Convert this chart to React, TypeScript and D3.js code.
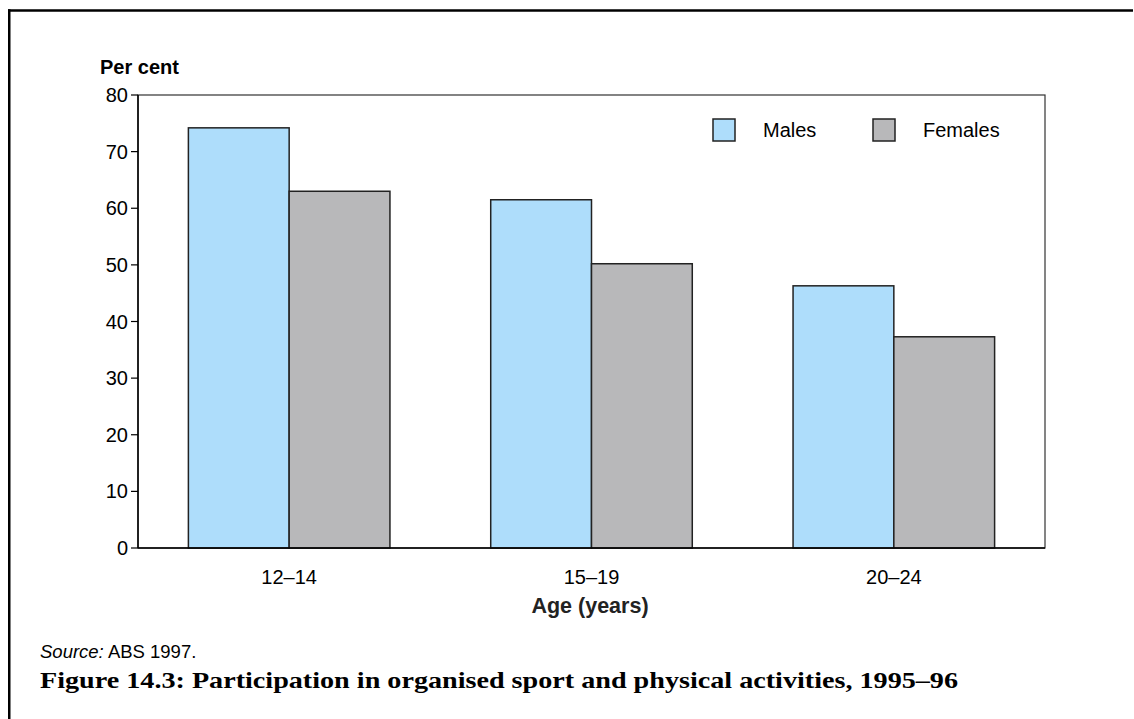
import React from "react";
import * as d3 from "d3";

const categories = ["12–14", "15–19", "20–24"];
const seriesNames = ["Males", "Females"];
const males = [74.2, 61.5, 46.3];
const females = [63.0, 50.2, 37.3];
const yTicks = [0, 10, 20, 30, 40, 50, 60, 70, 80];

const colors: Record<string, string> = { Males: "#aeddfb", Females: "#b8b8ba" };

export default function App() {
  const W = 1134, H = 719;
  const left = 138, right = 1045, top = 95, bottom = 548;
  const x = d3.scaleBand<string>().domain(categories).range([left, right]).paddingInner(1 / 3).paddingOuter(1 / 6);
  const xs = d3.scaleBand<string>().domain(seriesNames).range([0, x.bandwidth()]);
  const y = d3.scaleLinear().domain([0, 80]).range([bottom, top]);
  const values: Record<string, number[]> = { Males: males, Females: females };
  const sans = "'Liberation Sans', Arial, sans-serif";

  return (
    <svg width={W} height={H} style={{ position: "absolute", left: 0, top: 0, background: "#fff" }} fontFamily={sans}>
      {/* frame */}
      <line x1={8} x2={1133} y1={10.5} y2={10.5} stroke="#000" strokeWidth={2.5} />
      <line x1={9.25} x2={9.25} y1={9.25} y2={H} stroke="#000" strokeWidth={2.5} />

      {/* plot box */}
      <rect x={left} y={top} width={right - left} height={bottom - top} fill="none" stroke="#333" strokeWidth={1.2} />

      {/* bars */}
      {categories.map((c, i) =>
        seriesNames.map((s) => {
          const v = values[s][i];
          const bx = (x(c) as number) + (xs(s) as number);
          return (
            <rect key={c + s} x={bx} y={y(v)} width={xs.bandwidth()} height={y(0) - y(v)}
              fill={colors[s]} stroke="#222" strokeWidth={1.5} />
          );
        })
      )}

      {/* axes */}
      <line x1={left} x2={left} y1={top} y2={bottom} stroke="#000" strokeWidth={1.5} />
      <line x1={left} x2={right} y1={bottom} y2={bottom} stroke="#000" strokeWidth={1.5} />
      {yTicks.map((t) => (
        <g key={t}>
          <line x1={131} x2={left} y1={y(t)} y2={y(t)} stroke="#000" strokeWidth={1.2} />
          <text x={128} y={y(t)} dy="0.35em" textAnchor="end" fontSize={20} fill="#000">{t}</text>
        </g>
      ))}
      {categories.map((c) => (
        <text key={c} x={(x(c) as number) + x.bandwidth() / 2} y={584} textAnchor="middle" fontSize={20} fill="#000">{c}</text>
      ))}

      <text x={100} y={74} fontSize={20} fontWeight="bold" fill="#000">Per cent</text>
      <text x={590} y={613} textAnchor="middle" fontSize={21.5} fontWeight="bold" fill="#222">Age (years)</text>

      {/* legend */}
      {seriesNames.map((s, i) => (
        <g key={s} transform={`translate(${713 + i * 160},119)`}>
          <rect x={0} y={0} width={22} height={22} fill={colors[s]} stroke="#222" strokeWidth={1.5} />
          <text x={50} y={18} fontSize={20} fill="#000">{s}</text>
        </g>
      ))}

      <text x={40} y={658} fontSize={18.5} fill="#000">
        <tspan fontStyle="italic">Source:</tspan> ABS 1997.
      </text>
      <text x={40} y={688} fontSize={24} fontWeight="bold" fontFamily="'Liberation Serif', 'DejaVu Serif', serif" fill="#000"
        textLength={918} lengthAdjust="spacingAndGlyphs">
        Figure 14.3: Participation in organised sport and physical activities, 1995–96
      </text>
    </svg>
  );
}
